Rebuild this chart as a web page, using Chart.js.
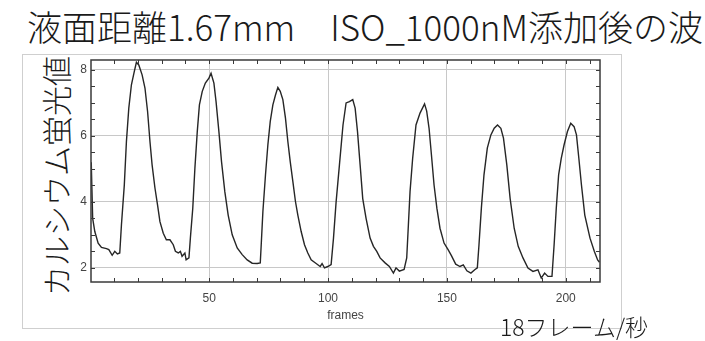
<!DOCTYPE html>
<html>
<head>
<meta charset="utf-8">
<script src="https://cdn.jsdelivr.net/npm/chart.js@4"></script>
<style>
  body { margin: 0; background: #fff; }
  #wrap { position: relative; width: 705px; height: 341px; overflow: hidden; }
  #title { position: absolute; left: 27px; top: 3px; font: 300 35px "Noto Sans CJK JP", sans-serif; color: #1a1a1a; white-space: nowrap; line-height: 1.3; }
  #frame { position: absolute; left: 22px; top: 54px; width: 598px; height: 273px; border: 1px solid #cfcfcf; }
  #ylabel { position: absolute; left: 55px; top: 176px; transform: translate(-50%, -50%) rotate(-90deg); font: 300 30px "Noto Sans CJK JP", sans-serif; color: #1a1a1a; white-space: nowrap; }
  #rate { position: absolute; left: 500px; top: 315px; font: 300 23px "Noto Sans CJK JP", sans-serif; color: #1a1a1a; white-space: nowrap; line-height: 1; }
  canvas { position: absolute; left: 0; top: 0; }
</style>
</head>
<body>
<div id="wrap">
  <div id="frame"></div>
  <div id="title">液面距離1.67mm　ISO_1000nM添加後の波</div>
  <div id="ylabel">カルシウム蛍光値</div>
  <canvas id="chart" width="705" height="341"></canvas>
  <div id="rate">18フレーム/秒</div>
</div>
<script>
// frame index and fluorescence
const frames = [0.4, 1, 1.9, 3.3, 4.7, 6.8, 7.8, 9.2, 10.3, 11.4, 12.4, 13.1, 14.3, 15.2, 16.2, 17.3, 18.5, 19.4, 20.4, 21.8,
  23.0, 24.1, 25.1, 26.0, 27.2, 28.3, 29.3, 30.7, 32.0, 33.5, 34.9, 35.8, 37.0, 37.9, 38.6, 39.8, 40.3, 41.5, 42.1, 43.1,
  44.0, 45.0, 45.9, 47.1, 48.4, 49.9, 50.8, 52.0, 52.9, 54.1, 55.2, 56.6, 58.0, 59.7, 61.8, 63.9, 66.0, 68.1, 70.2, 71.5,
  71.9, 72.6, 73.7, 74.7, 75.7, 76.8, 77.9, 78.9, 79.9, 81.0, 82.1, 83.1, 84.1, 85.2, 86.3, 87.3, 88.7, 90.1, 91.5, 92.9,
  95.0, 96.7, 97.5, 98.5, 99.9, 101.3, 102.3, 103.4, 104.8, 106.3, 107.6, 109.0, 110.4, 111.4, 112.4, 113.5, 114.6, 116.0, 117.7, 119.1,
  120.5, 121.9, 124.0, 125.8, 127.5, 128.6, 130.0, 132.0, 133.1, 133.8, 134.5, 135.6, 137.0, 138.7, 140.6, 141.5, 142.5, 143.5, 144.6, 145.8,
  147.1, 148.8, 150.5, 151.9, 153.7, 155.5, 156.9, 158.4, 160.1, 161.7, 162.8, 163.5, 164.5, 165.6, 167.0, 168.5, 169.9, 171.3, 172.7, 173.8,
  175.2, 176.6, 178.3, 180.0, 182.0, 184.1, 186.2, 188.3, 189.7, 191.1, 192.5, 194.2, 195.1, 196.0, 197.0, 198.1, 199.3, 200.7, 202.1, 203.5,
  204.5, 205.5, 206.6, 208.0, 210.2, 212.0, 213.4, 214.2];
const signal = [5.2, 3.5, 3.1, 2.75, 2.62, 2.58, 2.55, 2.38, 2.5, 2.42, 2.45, 3.3, 4.5, 5.83, 6.84, 7.55, 7.95, 8.23, 8.15, 7.85,
  7.45, 6.74, 5.83, 5.12, 4.42, 3.9, 3.4, 3.05, 2.85, 2.85, 2.7, 2.5, 2.45, 2.5, 2.35, 2.45, 2.24, 2.3, 2.9, 3.8,
  5.02, 6.13, 6.94, 7.35, 7.6, 7.75, 7.9, 7.6, 7.04, 6.13, 5.22, 4.3, 3.6, 3.0, 2.6, 2.4, 2.24, 2.14, 2.13, 2.15,
  2.7, 3.7, 4.82, 5.73, 6.44, 6.94, 7.24, 7.47, 7.35, 7.1, 6.54, 5.83, 5.22, 4.62, 4.01, 3.6, 3.1, 2.7, 2.45, 2.24,
  2.13, 2.04, 2.13, 2.0, 2.04, 2.1, 2.9, 4.0, 5.12, 6.33, 7.0, 7.04, 7.1, 6.84, 6.13, 5.12, 4.1, 3.5, 2.9, 2.65,
  2.5, 2.3, 2.15, 2.04, 1.84, 2.0, 1.9, 1.95, 2.3, 3.3, 4.31, 5.32, 6.33, 6.69, 6.97, 6.75, 6.23, 5.42, 4.51, 3.8,
  3.2, 2.75, 2.55, 2.37, 2.11, 2.04, 2.09, 1.91, 1.84, 1.94, 2.0, 2.7, 3.81, 4.82, 5.63, 6.03, 6.23, 6.33, 6.23, 5.93,
  5.12, 4.1, 3.2, 2.65, 2.3, 1.99, 1.89, 1.94, 1.69, 1.84, 1.74, 1.74, 2.7, 3.8, 4.82, 5.32, 5.73, 6.13, 6.38, 6.28,
  6.03, 5.32, 4.51, 3.6, 2.9, 2.5, 2.24, 2.17];

const xTicks = [50, 100, 150, 200];
const yTicks = [2, 4, 6, 8];

const points = frames.map((f, i) => ({ x: f, y: signal[i] }));

const minorX = [];
for (let f = 10; f <= 210; f += 10) minorX.push(f);
const minorY = [];
for (let v = 2; v <= 8; v += 0.5) minorY.push(v);

// inward tick marks and the dark plot frame
const frameTicks = {
  id: 'frameTicks',
  afterDraw(chart) {
    const { ctx, chartArea: a, scales: { x, y } } = chart;
    ctx.save();
    ctx.strokeStyle = '#3a3a3a';
    ctx.lineWidth = 1;
    ctx.beginPath();
    minorX.forEach(f => {
      const px = Math.round(x.getPixelForValue(f)) + 0.5;
      ctx.moveTo(px, a.bottom); ctx.lineTo(px, a.bottom - 4);
      ctx.moveTo(px, a.top); ctx.lineTo(px, a.top + 4);
    });
    minorY.forEach(v => {
      const py = Math.round(y.getPixelForValue(v)) + 0.5;
      ctx.moveTo(a.left, py); ctx.lineTo(a.left + 4, py);
      ctx.moveTo(a.right, py); ctx.lineTo(a.right - 4, py);
    });
    ctx.stroke();
    ctx.lineWidth = 1.5;
    ctx.strokeRect(a.left, a.top, a.right - a.left, a.bottom - a.top);
    ctx.restore();
  }
};

const tickFont = { family: '"Liberation Sans", Arial, sans-serif', size: 12 };

new Chart(document.getElementById('chart'), {
  type: 'line',
  data: {
    datasets: [{
      data: points,
      borderColor: '#262626',
      borderWidth: 1.4,
      pointRadius: 0,
      tension: 0,
      fill: false
    }]
  },
  options: {
    responsive: false,
    animation: false,
    devicePixelRatio: 1,
    layout: { padding: { left: 0, top: 60, right: 105, bottom: 0 } },
    plugins: { legend: { display: false }, tooltip: { enabled: false } },
    scales: {
      x: {
        type: 'linear',
        min: 0.3,
        max: 214.4,
        afterBuildTicks: s => { s.ticks = xTicks.map(v => ({ value: v })); },
        afterFit: s => { s.height = 59; },
        grid: { color: '#c8c8c8', lineWidth: 1, drawTicks: false },
        border: { display: false },
        ticks: { color: '#444', font: tickFont, padding: 9, maxRotation: 0 },
        title: { display: true, text: 'frames', color: '#444', font: tickFont, padding: { top: 0, bottom: 18 } }
      },
      y: {
        type: 'linear',
        min: 1.57,
        max: 8.3,
        afterBuildTicks: s => { s.ticks = yTicks.map(v => ({ value: v })); },
        afterFit: s => { s.width = 91; },
        grid: { color: '#c8c8c8', lineWidth: 1, drawTicks: false },
        border: { display: false },
        ticks: { color: '#444', font: tickFont, padding: 4 }
      }
    }
  },
  plugins: [frameTicks]
});
</script>
</body>
</html>
